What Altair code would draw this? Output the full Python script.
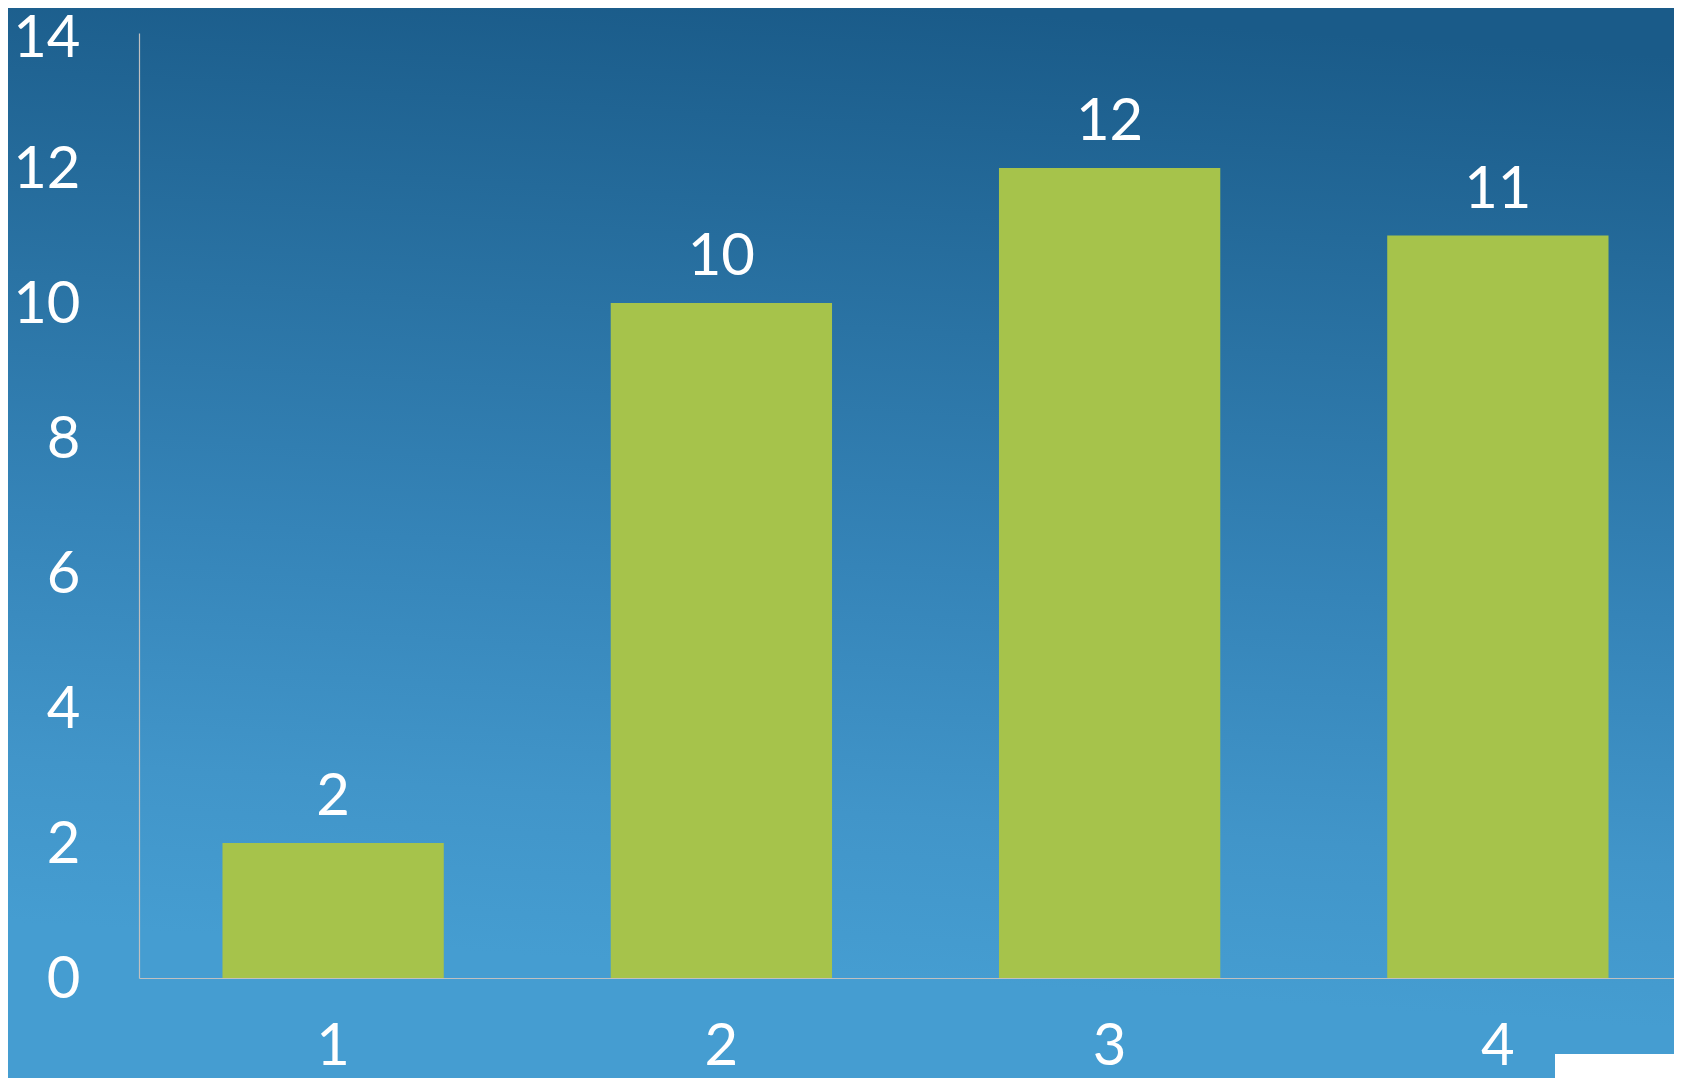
import altair as alt
import pandas as pd

# ---- data ----
categories = ["1", "2", "3", "4"]
values = [2, 10, 12, 11]
y_ticks = [0, 2, 4, 6, 8, 10, 12, 14]

df = pd.DataFrame({"cat": categories, "val": values})

# ---- layout (plot area inside the chart) ----
PAD_L, PAD_T, PAD_R, PAD_B = 131, 25, 0, 100
W, H = 1535, 945
X_RANGE = 1553  # band range runs past the right edge, as in the reference

FONT = "Lato"
FS = 58

bg = alt.Chart(pd.DataFrame({"k": [0]})).mark_rect(
    color=alt.LinearGradient(
        gradient="linear",
        x1=0.55, y1=0, x2=0.45, y2=1,
        stops=[
            alt.GradientStop(color="#1a5b89", offset=0.0),
            alt.GradientStop(color="#2a73a4", offset=0.3),
            alt.GradientStop(color="#3584b8", offset=0.52),
            alt.GradientStop(color="#4195c9", offset=0.75),
            alt.GradientStop(color="#459dd1", offset=0.9),
            alt.GradientStop(color="#459dd1", offset=1.0),
        ],
    )
).encode(
    x=alt.value(-PAD_L), x2=alt.value(W + PAD_R),
    y=alt.value(-PAD_T), y2=alt.value(H + PAD_B),
)

white_box = alt.Chart(pd.DataFrame({"k": [0]})).mark_rect(color="white").encode(
    x=alt.value(1416), x2=alt.value(W + PAD_R),
    y=alt.value(1021), y2=alt.value(H + PAD_B),
)

x_enc = alt.X(
    "cat:N",
    sort=categories,
    title=None,
    scale=alt.Scale(range=[0, X_RANGE], paddingInner=0.43, paddingOuter=0.215),
    axis=alt.Axis(
        labelAngle=0,
        labelPadding=40,
        ticks=False,
        tickSize=0,
        domainColor="#c0c0c0",
        domainWidth=1.2,
        labelColor="white",
        labelFont=FONT,
        labelFontSize=FS,
        labelBound=False,
        grid=False,
        zindex=2,
    ),
)

y_enc = alt.Y(
    "val:Q",
    title=None,
    scale=alt.Scale(domain=[0, 14], nice=False),
    axis=alt.Axis(
        values=y_ticks,
        format="d",
        labelPadding=59,
        labelOffset={"condition": {"test": "datum.value == 14", "value": 6}, "value": 2},
        ticks=False,
        tickSize=0,
        domainColor="#c0c0c0",
        domainWidth=1.2,
        labelColor="white",
        labelFont=FONT,
        labelFontSize=FS,
        labelFlush=False,
        labelOverlap=False,
        labelBaseline="middle",
        grid=False,
        zindex=2,
    ),
)

bars = alt.Chart(df).mark_bar(color="#a6c34b").encode(x=x_enc, y=y_enc)

labels = alt.Chart(df).mark_text(
    color="white", font=FONT, fontSize=FS, baseline="alphabetic", dy=-28
).encode(
    x=alt.X("cat:N", sort=categories),
    y=alt.Y("val:Q"),
    text=alt.Text("val:Q", format="d"),
)

chart = alt.layer(bg, bars, labels, white_box).properties(
    width=W,
    height=H,
    autosize=alt.AutoSizeParams(type="none"),
    padding={"left": PAD_L, "top": PAD_T, "right": PAD_R, "bottom": PAD_B},
).configure_view(stroke=None).configure(background="#459dd1")

chart.save("out.html", embed_options={"renderer": "svg", "actions": False})
